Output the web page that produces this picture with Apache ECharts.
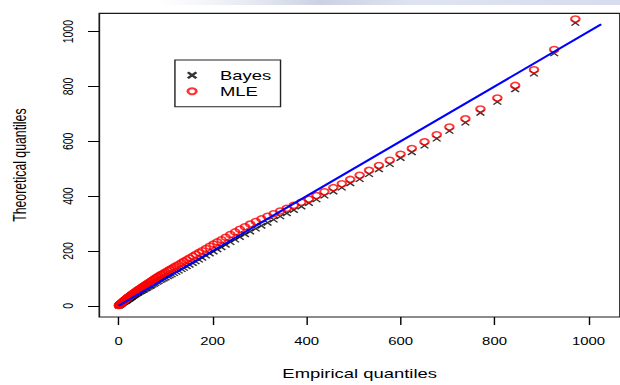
<!DOCTYPE html>
<html>
<head>
<meta charset="utf-8">
<script src="https://cdn.jsdelivr.net/npm/echarts@6/dist/echarts.min.js"></script>
<style>
  html, body { margin: 0; padding: 0; background: #fff; overflow: hidden; }
  /* the R figure was stretched sideways when it was pasted, so the chart is
     drawn narrow and widened with CSS */
  #main { width: 437px; height: 385px; transform: scaleX(1.41876); transform-origin: 0 0; }
</style>
</head>
<body>
<div id="main"></div>
<script>
// empirical quantiles (x) shared by both fits
var empirical = [
  0.5, 1, 2, 3, 4, 5, 6, 7, 8, 9,
  10, 11, 12, 13, 14, 15, 16, 17, 18, 19,
  20, 21, 22, 23, 24, 25, 26, 27, 28, 29,
  30, 32, 33, 34, 36, 37, 39, 41, 42, 44,
  46, 48, 50, 52, 54, 57, 59, 61, 64, 67,
  69, 72, 75, 78, 82, 85, 89, 92, 96, 100,
  105, 109, 113, 118, 123, 128, 134, 139, 145, 151,
  158, 164, 171, 178, 186, 194, 202, 210, 219, 228,
  238, 248, 258, 269, 280, 292, 304, 317, 330, 344,
  358, 373, 389, 405, 421, 438, 457, 475, 493, 513,
  533, 554, 577, 600, 624, 651, 677, 704, 738, 770,
  806, 844, 884, 927, 972
];
// theoretical quantiles, MLE fit
var mle = [
  1, 2, 3.5, 5, 6.5, 8, 9.5, 11, 13, 14.5,
  16, 17, 19, 20, 22, 23, 24, 26, 27, 29,
  30, 31, 33, 34, 35, 36.5, 38, 39, 40.5, 42,
  43, 45.5, 47, 48, 50.5, 52, 54.5, 57, 58, 60.5,
  63, 65, 67.5, 70, 72, 75.5, 78, 80, 84, 87,
  89.5, 93, 96.5, 100, 104.5, 108, 112, 115, 119, 123,
  128, 132, 136, 141, 146, 151, 157, 162, 168, 174,
  181, 187, 194, 201, 209, 217, 225, 233, 241, 250,
  260, 269.5, 279, 288.5, 298, 307.5, 317, 326.5, 336, 346,
  356, 366.5, 377.5, 389, 402, 416, 431, 445, 461, 476,
  494, 512, 531, 553, 574, 598, 624, 652, 682, 718,
  758, 804, 861, 935, 1046
];
// theoretical quantiles, Bayes fit
var bayes = [
  0.5, 1.5, 3, 4, 5, 6.5, 8, 9, 10.5, 12,
  13, 14, 15, 16, 17, 18, 19, 20, 21, 22.5,
  24, 25, 26, 27, 28, 29.5, 31, 32, 33, 34,
  35.5, 37.5, 39, 40, 42, 43.5, 45.5, 47.5, 48.5, 50.5,
  52.5, 54, 56, 58, 59.5, 62.5, 64.5, 66, 69.5, 72,
  74, 77, 80, 83, 87, 90, 93.5, 96, 99.5, 103,
  107.5, 111, 114.5, 119, 123.5, 128, 133.5, 138, 144, 149.5,
  156, 162, 168.5, 175, 183, 190.5, 198, 206, 213.5, 222.5,
  232, 241.5, 251, 261, 271, 281.5, 292, 303, 314, 326,
  337.5, 349.5, 362, 375, 388, 402, 417, 431, 447, 462,
  480, 498, 517, 539, 560, 584, 610, 638, 668, 704,
  744, 790, 847, 921, 1032
];
// reference line y = x
var refX = [0, 1027];
var refY = [0, 1027];
var ticks = [0, 200, 400, 600, 800, 1000];

var myChart = echarts.init(document.getElementById('main'), null, {renderer: 'svg'});

var font = 'Liberation Sans, Arial, sans-serif';
var plain = function (v) { return String(v); };

var option = {
    animation: false,
    textStyle: {
        fontFamily: font
    },
    graphic: [{
        type: 'rect',
        silent: true,
        shape: {x: 110, y: 0, width: 330, height: 5},
        style: {
            fill: new echarts.graphic.LinearGradient(0, 0, 1, 0, [
                {offset: 0, color: 'rgba(215,220,235,0)'},
                {offset: 0.35, color: 'rgba(190,198,220,0.8)'},
                {offset: 0.55, color: 'rgba(215,220,238,0.8)'},
                {offset: 1, color: 'rgba(210,216,236,0.9)'}
            ])
        }
    }],
    grid: {
        left: 68,
        right: -0.5,
        top: 13.3,
        bottom: 62.9,
        show: true,
        borderColor: '#1a1a1a',
        borderWidth: 1.2
    },
    legend: {
        data: ['Bayes', 'MLE'],
        orient: 'vertical',
        left: 123.3,
        top: 60,
        itemWidth: 24,
        itemHeight: 6,
        itemGap: 3,
        padding: [8.7, 6.6, 9, 8.1],
        borderColor: '#222',
        borderWidth: 1,
        textStyle: {
            fontFamily: font,
            fontSize: 13,
            lineHeight: 13,
            color: '#000',
            padding: [0, 0, 0, 2.6]
        }
    },
    xAxis: {
        type: 'value',
        min: -41,
        max: 1067,
        splitLine: {show: false},
        axisLine: {show: false, onZero: false},
        axisTick: {
            show: true,
            length: 8,
            customValues: ticks,
            lineStyle: {color: '#000', width: 1}
        },
        axisLabel: {
            customValues: ticks,
            formatter: plain,
            margin: 19,
            fontSize: 10.5,
            color: '#000'
        },
        name: 'Empirical quantiles',
        nameLocation: 'middle',
        nameGap: 50,
        nameTextStyle: {
            fontSize: 13,
            color: '#000'
        }
    },
    yAxis: {
        type: 'value',
        min: -41,
        max: 1067,
        splitLine: {show: false},
        axisLine: {show: false, onZero: false},
        axisTick: {
            show: true,
            length: 8,
            customValues: ticks,
            lineStyle: {color: '#000', width: 1}
        },
        axisLabel: {
            customValues: ticks,
            formatter: plain,
            rotate: 90,
            margin: 17,
            fontSize: 10.5,
            color: '#000'
        },
        name: 'Theoretical quantiles',
        nameLocation: 'middle',
        nameGap: 50,
        nameTextStyle: {
            fontSize: 12.3,
            color: '#000'
        }
    },
    series: [
        {
            name: 'Bayes',
            type: 'scatter',
            data: empirical.map(function (x, i) { return [x, bayes[i]]; }),
            symbol: 'path://M0,0L10,10M10,0L0,10',
            symbolSize: 5.5,
            itemStyle: {
                color: '#000',
                borderColor: '#000',
                borderWidth: 1.2
            }
        },
        {
            name: 'MLE',
            type: 'scatter',
            data: empirical.map(function (x, i) { return [x, mle[i]]; }),
            symbol: 'circle',
            symbolSize: 6,
            itemStyle: {
                color: 'rgba(255,0,0,0)',
                borderColor: '#ff0000',
                borderWidth: 1.5
            }
        },
        {
            name: 'line',
            type: 'line',
            data: refX.map(function (x, i) { return [x, refY[i]]; }),
            showSymbol: false,
            symbol: 'none',
            lineStyle: {color: '#0000ff', width: 1.8}
        }
    ]
};
myChart.setOption(option);
</script>
</body>
</html>
